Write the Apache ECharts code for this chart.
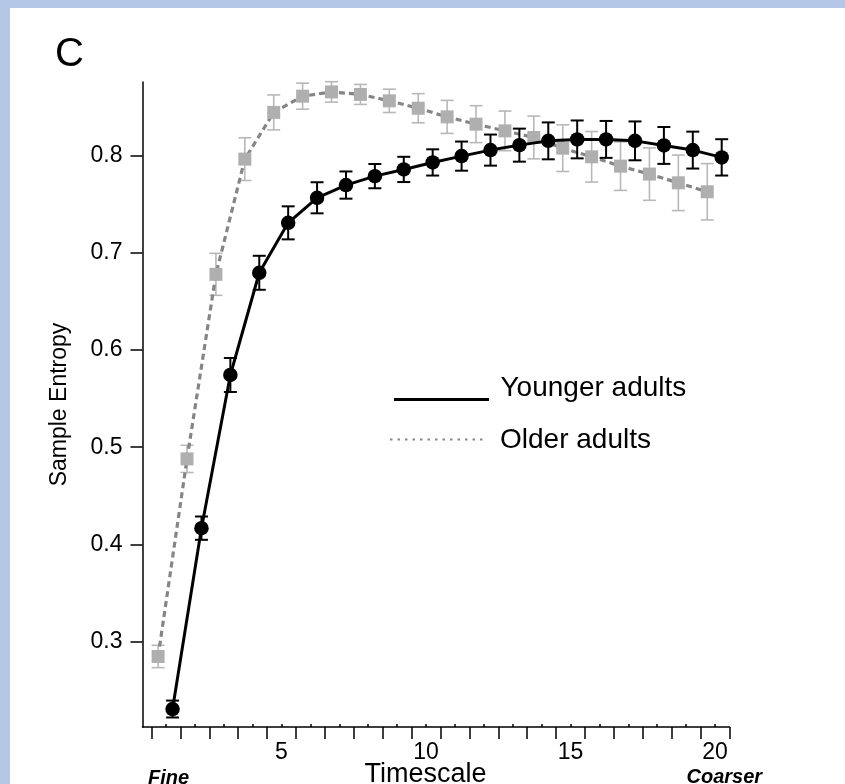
<!DOCTYPE html>
<html>
<head>
<meta charset="utf-8">
<script src="https://cdn.jsdelivr.net/npm/echarts@6/dist/echarts.min.js"></script>
<style>
  html, body { margin: 0; padding: 0; }
  #main { width: 845px; height: 784px; }
</style>
</head>
<body>
<div id="main"></div>
<script>
// timescale 1..20
const scales = [1, 2, 3, 4, 5, 6, 7, 8, 9, 10, 11, 12, 13, 14, 15, 16, 17, 18, 19, 20]
const youngMean = [0.2305, 0.4167, 0.5744, 0.6796, 0.731, 0.7568, 0.7699, 0.7791, 0.786, 0.7932,
  0.7997, 0.8059, 0.811, 0.8154, 0.8169, 0.8169, 0.8154, 0.8107, 0.8059, 0.7984]
const youngErr = [0.0087, 0.012, 0.0175, 0.0175, 0.017, 0.016, 0.014, 0.0125, 0.013, 0.0135,
  0.015, 0.016, 0.017, 0.019, 0.0195, 0.019, 0.02, 0.019, 0.019, 0.0187]
const olderMean = [0.2846, 0.488, 0.678, 0.7966, 0.8447, 0.8614, 0.8658, 0.8632, 0.8566, 0.849,
  0.8401, 0.8326, 0.8257, 0.8189, 0.8079, 0.799, 0.7894, 0.7812, 0.7722, 0.763]
const olderErr = [0.0115, 0.014, 0.0216, 0.022, 0.018, 0.0134, 0.0105, 0.0103, 0.012, 0.015,
  0.017, 0.019, 0.0204, 0.022, 0.024, 0.026, 0.025, 0.027, 0.0286, 0.029]
const yTicks = [0.3, 0.4, 0.5, 0.6, 0.7, 0.8]
const xLabels = [5, 10, 15, 20]
const xMajorTicks = [0.5, 1.5, 2.5, 3.5, 4.5, 5.5, 6.5, 7.5, 8.5, 9.5, 10.5,
  11.5, 12.5, 13.5, 14.5, 15.5, 16.5, 17.5, 18.5, 19.5, 20.5]

// the two groups are dodged a bit sideways
const olderShift = -0.27
const youngShift = 0.23

const FONT = '"Liberation Sans", Arial, Helvetica, sans-serif'

function points(mean, shift) {
  return scales.map((s, i) => [s + shift, mean[i]])
}
function bars(mean, err, shift) {
  return scales.map((s, i) => [s + shift, mean[i] - err[i], mean[i] + err[i]])
}

function errorBar(color, width, cap) {
  return function(params, api) {
    const x = api.value(0)
    const lo = api.coord([x, api.value(1)])
    const hi = api.coord([x, api.value(2)])
    const h = cap / 2
    const style = { stroke: color, lineWidth: width }
    return {
      type: 'group',
      children: [
        { type: 'line', shape: { x1: lo[0], y1: lo[1], x2: hi[0], y2: hi[1] }, style },
        { type: 'line', shape: { x1: lo[0] - h, y1: lo[1], x2: lo[0] + h, y2: lo[1] }, style },
        { type: 'line', shape: { x1: hi[0] - h, y1: hi[1], x2: hi[0] + h, y2: hi[1] }, style }
      ]
    }
  }
}

const myChart = echarts.init(document.getElementById('main'))

const option = {
  backgroundColor: '#fff',
  animation: false,
  textStyle: { fontFamily: FONT },
  grid: { left: 142.5, right: 115.5, top: 82, bottom: 57 },
  xAxis: [
    {
      type: 'value',
      min: 0.19,
      max: 20.5,
      axisLine: { onZero: false, lineStyle: { color: '#000', width: 1.5 } },
      axisTick: { customValues: xMajorTicks, length: 12, lineStyle: { color: '#000', width: 1.5 } },
      axisLabel: { show: false },
      splitLine: { show: false }
    },
    {
      type: 'value',
      min: 0.19,
      max: 20.5,
      position: 'bottom',
      axisLine: { show: false, onZero: false },
      axisTick: { customValues: scales, inside: true, length: 3, lineStyle: { color: '#000', width: 1.5 } },
      axisLabel: { customValues: xLabels, margin: 14, fontSize: 23, color: '#000', fontFamily: FONT },
      splitLine: { show: false }
    }
  ],
  yAxis: {
    type: 'value',
    min: 0.212,
    max: 0.876,
    name: 'Sample Entropy',
    nameLocation: 'middle',
    nameGap: 71,
    nameTextStyle: { fontSize: 23, color: '#000', fontFamily: FONT },
    axisLine: { lineStyle: { color: '#000', width: 1.5 } },
    axisTick: { customValues: yTicks, length: 12, lineStyle: { color: '#000', width: 1.5 } },
    axisLabel: {
      customValues: yTicks,
      margin: 20,
      fontSize: 23,
      color: '#000',
      fontFamily: FONT,
      formatter: v => v.toFixed(1)
    },
    splitLine: { show: false }
  },
  series: [
    {
      name: 'Older adults',
      type: 'line',
      data: points(olderMean, olderShift),
      symbol: 'rect',
      symbolSize: 13,
      itemStyle: { color: '#afafaf' },
      lineStyle: { color: '#858585', width: 3.2, type: [6, 4] },
      z: 3
    },
    {
      type: 'custom',
      data: bars(olderMean, olderErr, olderShift),
      renderItem: errorBar('#b8b8b8', 1.6, 13),
      encode: { x: 0, y: [1, 2] },
      z: 2
    },
    {
      type: 'custom',
      data: bars(youngMean, youngErr, youngShift),
      renderItem: errorBar('#000', 2, 13),
      encode: { x: 0, y: [1, 2] },
      z: 4
    },
    {
      name: 'Younger adults',
      type: 'line',
      data: points(youngMean, youngShift),
      symbol: 'circle',
      symbolSize: 14.5,
      itemStyle: { color: '#000' },
      lineStyle: { color: '#000', width: 3 },
      z: 5
    }
  ],
  graphic: [
    { type: 'rect', shape: { x: 0, y: 0, width: 10, height: 784 }, style: { fill: '#b4c7e7' }, z: 100 },
    { type: 'rect', shape: { x: 0, y: 0, width: 845, height: 8 }, style: { fill: '#b4c7e7' }, z: 100 },
    {
      type: 'text', x: 69.5, y: 55,
      style: { text: 'C', font: '40px ' + FONT, fill: '#000', align: 'center', verticalAlign: 'middle' }
    },
    // legend
    { type: 'line', shape: { x1: 394, y1: 399.5, x2: 489, y2: 399.5 }, style: { stroke: '#000', lineWidth: 3 } },
    {
      type: 'text', x: 500.5, y: 388,
      style: { text: 'Younger adults', font: '28px ' + FONT, fill: '#000', verticalAlign: 'middle' }
    },
    { type: 'line', shape: { x1: 390, y1: 439.5, x2: 486, y2: 439.5 }, style: { stroke: '#888', lineWidth: 2, lineDash: [2.5, 5] } },
    {
      type: 'text', x: 500, y: 440,
      style: { text: 'Older adults', font: '28px ' + FONT, fill: '#000', verticalAlign: 'middle' }
    },
    // axis annotations
    {
      type: 'text', x: 425.5, y: 775,
      style: { text: 'Timescale', font: '27px ' + FONT, fill: '#000', align: 'center', verticalAlign: 'middle' }
    },
    {
      type: 'text', x: 148, y: 778,
      style: { text: 'Fine', font: 'italic bold 20px ' + FONT, fill: '#000', verticalAlign: 'middle' }
    },
    {
      type: 'text', x: 686.5, y: 777,
      style: { text: 'Coarser', font: 'italic bold 20px ' + FONT, fill: '#000', verticalAlign: 'middle' }
    }
  ]
}

myChart.setOption(option)
</script>
</body>
</html>
